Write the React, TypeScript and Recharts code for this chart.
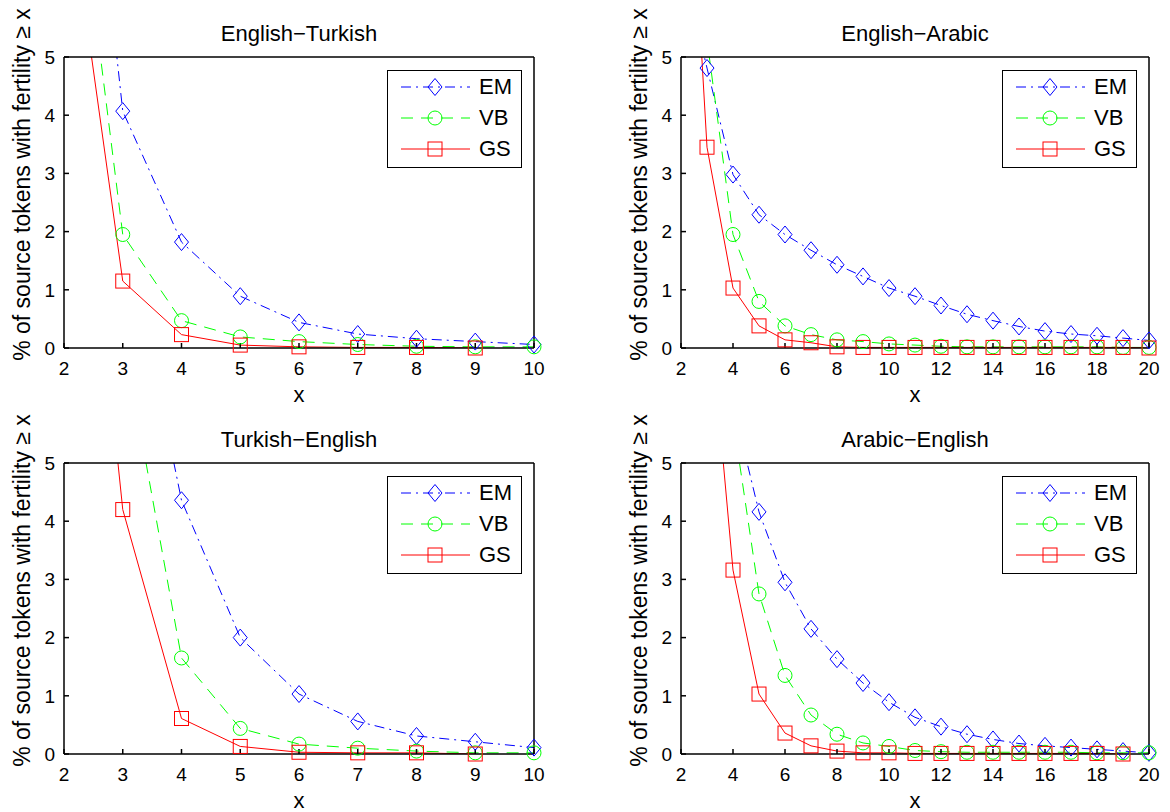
import React from 'react';
import { LineChart, Line, XAxis, YAxis, Legend, Label } from 'recharts';

// x values (fertility thresholds)
const xsShort = [2, 3, 4, 5, 6, 7, 8, 9, 10];
const xsLong = [2, 3, 4, 5, 6, 7, 8, 9, 10, 11, 12, 13, 14, 15, 16, 17, 18, 19, 20];
const ticksShort = [2, 3, 4, 5, 6, 7, 8, 9, 10];
const ticksLong = [2, 4, 6, 8, 10, 12, 14, 16, 18, 20];
const yTicks = [0, 1, 2, 3, 4, 5];

// English-Turkish
const enTrEM = [13.4, 4.07, 1.82, 0.89, 0.44, 0.24, 0.16, 0.11, 0.06];
const enTrVB = [10.0, 1.95, 0.47, 0.19, 0.11, 0.06, 0.03, 0.02, 0.02];
const enTrGS = [8.4, 1.15, 0.23, 0.05, 0.02, 0.01, 0.01, 0.0, null];

// English-Arabic
const enArEM = [6.7, 4.81, 2.98, 2.29, 1.95, 1.68, 1.43, 1.23, 1.03, 0.89, 0.73, 0.58, 0.47, 0.37, 0.29, 0.24, 0.21, 0.17, 0.13];
const enArVB = [14, 5.3, 1.95, 0.8, 0.38, 0.23, 0.14, 0.11, 0.07, 0.05, 0.03, 0.02, 0.02, 0.02, 0.02, 0.02, 0.02, 0.01, 0.01];
const enArGS = [11.2, 3.45, 1.03, 0.38, 0.14, 0.09, 0.02, 0.01, 0.01, 0.01, 0.01, 0.01, 0.01, 0.01, 0.01, 0.01, 0.01, 0.01, 0.0];

// Turkish-English
const trEnEM = [20, 9.3, 4.36, 2.0, 1.03, 0.56, 0.31, 0.21, 0.11];
const trEnVB = [18, 7.2, 1.65, 0.44, 0.17, 0.1, 0.05, 0.02, 0.02];
const trEnGS = [14, 4.2, 0.61, 0.13, 0.03, 0.02, 0.02, 0.0, null];

// Arabic-English
const arEnEM = [20, 9, 6.0, 4.16, 2.95, 2.15, 1.63, 1.22, 0.89, 0.63, 0.47, 0.34, 0.25, 0.18, 0.14, 0.11, 0.08, 0.05, 0.02];
const arEnVB = [18, 9, 5.75, 2.75, 1.35, 0.67, 0.34, 0.19, 0.13, 0.06, 0.04, 0.03, 0.03, 0.03, 0.03, 0.03, 0.02, 0.02, 0.02];
const arEnGS = [15, 8.1, 3.16, 1.03, 0.36, 0.14, 0.05, 0.02, 0.02, 0.01, 0.01, 0.01, 0.01, 0.01, 0.01, 0.01, 0.01, 0.0, null];

const seriesNames = ['EM', 'VB', 'GS'];
const seriesColors = ['#0000ff', '#00ff00', '#ff0000'];
const seriesDash = ['10 5 2 5', '12 8', undefined];
const seriesMarkers = ['diamond', 'circle', 'square'];

const yLabelText = '% of source tokens with fertility \u2265 x';
const FONT = '"Liberation Sans", Arial, Helvetica, sans-serif';

function markerShape(kind: string, cx: number, cy: number, color: string) {
  if (kind === 'diamond') {
    return <path d={`M${cx},${cy - 8.5}L${cx + 7},${cy}L${cx},${cy + 8.5}L${cx - 7},${cy}Z`} fill="none" stroke={color} strokeWidth={1} />;
  }
  if (kind === 'circle') {
    return <circle cx={cx} cy={cy} r={7} fill="none" stroke={color} strokeWidth={1} />;
  }
  return <rect x={cx - 7} y={cy - 7} width={14} height={14} fill="none" stroke={color} strokeWidth={1} />;
}

const makeDot = (k: number) => (props: any) => {
  const { cx, cy, index } = props;
  if (cx == null || cy == null || props.value == null) return <g key={`d${k}-${index}`} />;
  return <g key={`d${k}-${index}`}>{markerShape(seriesMarkers[k], cx, cy, seriesColors[k])}</g>;
};

const YLabel = (props: any) => {
  const vb = props.viewBox || { x: 0, y: 57, width: 64, height: 291 };
  const cx = vb.x + vb.width - 42;
  const cy = vb.y + vb.height / 2 - 18;
  return (
    <text x={cx} y={cy} transform={`rotate(-90 ${cx} ${cy})`} textAnchor="middle" dominantBaseline="central" fontSize={23} fill="#000" fontFamily={FONT}>
      {yLabelText}
    </text>
  );
};

const renderLegend = (props: any) => {
  const items = (props.payload || [])
    .filter((p: any) => seriesNames.includes(p.value))
    .sort((a: any, b: any) => seriesNames.indexOf(a.value) - seriesNames.indexOf(b.value));
  return (
    <div style={{ width: 135, height: 98, boxSizing: 'border-box', border: '1.5px solid #000', background: '#fff', position: 'relative', fontFamily: FONT }}>
      {items.map((p: any, i: number) => {
        const k = seriesNames.indexOf(p.value);
        return (
          <div key={p.value} style={{ position: 'absolute', left: 0, top: 3 + i * 31, height: 26, display: 'flex', alignItems: 'center' }}>
            <svg width={90} height={26}>
              <line x1={13} x2={82} y1={13} y2={13} stroke={seriesColors[k]} strokeWidth={1} strokeDasharray={seriesDash[k]} />
              {markerShape(seriesMarkers[k], 47, 13, seriesColors[k])}
            </svg>
            <span style={{ fontSize: 22, color: '#000', marginLeft: 1, lineHeight: '26px' }}>{p.value}</span>
          </div>
        );
      })}
    </div>
  );
};

type PanelProps = {
  title: string;
  xs: number[];
  ticks: number[];
  xMax: number;
  em: (number | null)[];
  vb: (number | null)[];
  gs: (number | null)[];
  left: number;
  top: number;
  plotWidth: number;
};

function Panel({ title, xs, ticks, xMax, em, vb, gs, left, top, plotWidth }: PanelProps) {
  const cols = [em, vb, gs];
  const rows = xs.map((x, i) => {
    const row: any = { x };
    seriesNames.forEach((n, k) => {
      const v = cols[k][i];
      row[n] = v == null ? null : v;
      row[n + 'm'] = v == null || v > 5 ? null : v;
    });
    return row;
  });
  const width = 64 + plotWidth + 20;
  const axisProps = { stroke: '#000', strokeWidth: 1.5 };
  return (
    <div style={{ position: 'absolute', left, top }}>
      <LineChart width={width} height={406} data={rows} margin={{ top: 56, right: 19, bottom: 0, left: 0 }} style={{ fontFamily: FONT }}>
        <XAxis
          dataKey="x"
          type="number"
          domain={[2, xMax]}
          ticks={ticks}
          interval={0}
          height={58}
          tickSize={-5}
          tickMargin={19}
          {...axisProps}
          tick={{ fill: '#000', fontSize: 19 }}
        >
          <Label value="x" position="insideBottom" offset={4} fill="#000" fontSize={22} />
        </XAxis>
        <XAxis
          xAxisId="top"
          orientation="top"
          dataKey="x"
          type="number"
          domain={[2, xMax]}
          ticks={ticks}
          interval={0}
          height={1}
          tickSize={-5}
          tick={false}
          {...axisProps}
        >
          <Label value={title} position="top" offset={15} fill="#000" fontSize={22} />
        </XAxis>
        <YAxis
          domain={[0, 5]}
          ticks={yTicks}
          interval={0}
          allowDataOverflow
          width={64}
          tickSize={-5}
          tickMargin={14}
          {...axisProps}
          tick={{ fill: '#000', fontSize: 19 }}
          label={{ content: YLabel }}
        />
        <YAxis yAxisId="r" orientation="right" domain={[0, 5]} ticks={yTicks} interval={0} width={1} tickSize={-5} tick={false} {...axisProps} />
        <YAxis yAxisId="m" hide domain={[0, 5]} />
        <Legend
          layout="vertical"
          align="center"
          verticalAlign="middle"
          wrapperStyle={{ left: 64 + plotWidth - 147, top: 70, width: 135, height: 98 }}
          content={renderLegend}
        />
        {seriesNames.map((n, k) => [
          <Line
            key={n}
            dataKey={n}
            name={n}
            type="linear"
            stroke={seriesColors[k]}
            strokeWidth={1}
            strokeDasharray={seriesDash[k]}
            dot={false}
            activeDot={false}
            isAnimationActive={false}
          />,
          <Line
            key={n + 'm'}
            dataKey={n + 'm'}
            yAxisId="m"
            type="linear"
            stroke="none"
            legendType="none"
            dot={makeDot(k)}
            activeDot={false}
            isAnimationActive={false}
          />,
        ])}
      </LineChart>
    </div>
  );
}

export default function App() {
  return (
    <div style={{ position: 'absolute', left: 0, top: 0, width: 1170, height: 812, background: '#fff', fontFamily: FONT }}>
      <Panel title={'English\u2212Turkish'} xs={xsShort} ticks={ticksShort} xMax={10} em={enTrEM} vb={enTrVB} gs={enTrGS} left={0} top={0} plotWidth={470} />
      <Panel title={'English\u2212Arabic'} xs={xsLong} ticks={ticksLong} xMax={20} em={enArEM} vb={enArVB} gs={enArGS} left={617} top={0} plotWidth={468} />
      <Panel title={'Turkish\u2212English'} xs={xsShort} ticks={ticksShort} xMax={10} em={trEnEM} vb={trEnVB} gs={trEnGS} left={0} top={406} plotWidth={470} />
      <Panel title={'Arabic\u2212English'} xs={xsLong} ticks={ticksLong} xMax={20} em={arEnEM} vb={arEnVB} gs={arEnGS} left={617} top={406} plotWidth={468} />
    </div>
  );
}
